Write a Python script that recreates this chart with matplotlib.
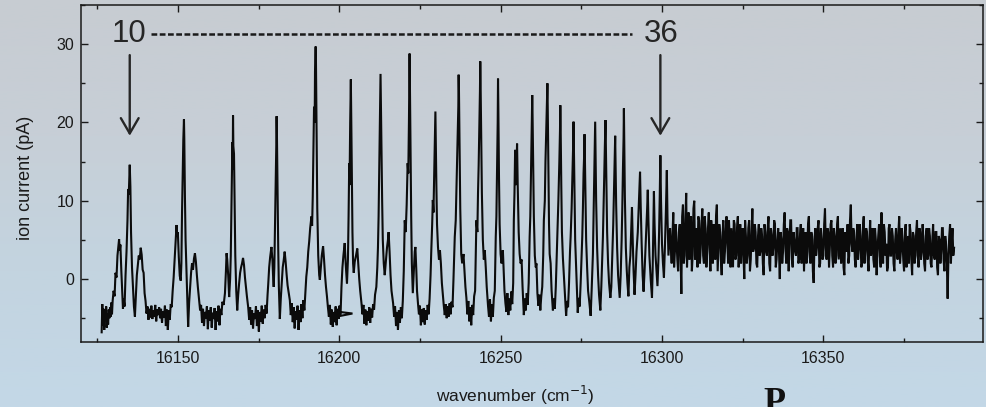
import numpy as np
import matplotlib
matplotlib.use("Agg")
import matplotlib.pyplot as plt
from matplotlib.ticker import MultipleLocator
from matplotlib.colors import LinearSegmentedColormap

# ---------------- data (wavenumber cm^-1, ion current pA) ----------------
# lines 10 and 11
seg_a = [(16126.4,-6.8),(16126.6,-3.2),(16126.8,-5.9),(16127.0,-3.8),(16127.2,-6.5),(16127.4,-4.0),
 (16127.6,-5.2),(16127.8,-3.5),(16128.0,-6.2),(16128.2,-4.4),(16128.4,-5.8),(16128.6,-3.9),(16128.8,-5.0),
 (16129.0,-3.6),(16129.2,-4.8),(16129.4,-3.0),(16129.6,-4.5),(16129.8,-2.8),(16130.1,-1.5),(16130.4,-2.2),
 (16130.7,0.8),(16131.0,0.2),(16131.3,3.0),(16131.6,4.2),(16131.8,5.1),(16132.0,3.6),(16132.2,4.4),
 (16132.5,1.0),(16132.8,-2.0),(16133.0,-3.8),(16133.2,-2.5),(16133.5,-3.5),(16133.8,0.5),(16134.1,3.5),
 (16134.4,7.5),(16134.6,11.5),(16134.8,10.8),(16135.0,13.5),(16135.1,14.6),(16135.3,11.8),(16135.5,6.0),
 (16135.8,1.5),(16136.1,-1.0),(16136.4,-3.5),(16136.7,-4.8),(16137.0,-2.0),(16137.3,0.5),(16137.6,1.8),
 (16137.9,3.0),(16138.2,2.5),(16138.5,4.0),(16138.8,3.1),(16139.1,1.2),(16139.4,0.8),(16139.7,-1.8),
 (16140.0,-2.8),(16140.3,-4.4),(16140.6,-3.5),(16140.9,-5.2),(16141.2,-3.8),(16141.5,-4.9),(16141.8,-3.4),
 (16142.1,-5.1),(16142.4,-4.0),(16142.7,-4.8),(16143.0,-3.3),(16143.3,-5.4),(16143.6,-3.9),(16143.9,-4.6),
 (16144.2,-3.6),(16144.5,-5.0),(16144.8,-3.8),(16145.1,-5.6),(16145.4,-4.1),(16145.7,-4.9),(16146.0,-3.4),
 (16146.3,-6.0),(16146.6,-3.9),(16146.9,-6.5),(16147.2,-4.0),(16147.5,-5.2),(16147.8,-3.2),(16148.1,-3.6),
 (16148.4,-1.5),(16148.7,0.2),(16149.0,2.5),(16149.3,4.8),(16149.6,6.9),(16149.8,5.5),(16150.0,6.0),
 (16150.3,2.8),(16150.6,0.4),(16150.9,-0.2),(16151.1,2.0),(16151.3,8.5),(16151.5,13.0),(16151.7,17.8),
 (16151.9,20.4),(16152.0,18.0),(16152.2,10.5),(16152.4,5.0),(16152.7,0.5),(16153.0,-3.5),(16153.2,-6.1),
 (16153.5,-3.0),(16153.8,-1.0),(16154.1,0.8),(16154.4,2.0),(16154.7,1.2),(16155.0,2.6),(16155.3,3.3),
 (16155.6,2.2),(16155.9,0.5),(16156.2,-1.0),(16156.6,-2.7)]

# lines 12 - 14
seg_b = [(16156.9,-4.0),(16157.2,-3.3),(16157.5,-5.6),(16157.8,-3.8),(16158.1,-6.0),(16158.4,-4.2),
 (16158.7,-5.0),(16159.0,-3.5),(16159.3,-6.4),(16159.6,-4.0),(16159.9,-5.3),(16160.2,-3.6),(16160.5,-6.2),
 (16160.8,-4.3),(16161.1,-5.1),(16161.4,-3.7),(16161.7,-6.5),(16162.0,-4.1),(16162.3,-5.4),(16162.6,-3.4),
 (16162.9,-5.9),(16163.2,-3.8),(16163.5,-4.6),(16163.8,-2.9),(16164.2,-3.3),(16164.6,-1.8),(16164.9,1.0),
 (16165.1,3.3),(16165.3,2.5),(16165.6,0.5),(16165.9,-2.3),(16166.2,0.0),(16166.4,3.0),(16166.6,9.0),
 (16166.8,14.3),(16166.9,17.5),(16167.0,14.0),(16167.1,20.9),(16167.2,17.0),(16167.4,16.0),(16167.6,9.0),
 (16167.8,3.0),(16168.1,-1.5),(16168.4,-4.0),(16168.7,-2.0),(16169.0,-0.5),(16169.3,0.8),(16169.6,1.5),
 (16169.9,2.0),(16170.2,2.7),(16170.5,1.8),(16170.8,0.2),(16171.1,-1.0),(16171.4,-2.2),(16171.8,-3.6),
 (16172.1,-5.2),(16172.4,-3.6),(16172.7,-5.8),(16173.0,-4.0),(16173.3,-6.3),(16173.6,-4.4),(16173.9,-5.1),
 (16174.2,-3.5),(16174.5,-6.0),(16174.8,-4.0),(16175.1,-6.7),(16175.4,-4.2),(16175.7,-5.4),(16176.0,-3.4),
 (16176.3,-5.7),(16176.6,-3.9),(16176.9,-5.0),(16177.2,-3.3),(16177.5,-4.4),(16177.8,-2.0),(16178.0,-0.7),
 (16178.3,1.5),(16178.6,2.8),(16179.0,4.1),(16179.3,2.5),(16179.5,0.5),(16179.7,-1.0),(16179.9,1.5),
 (16180.1,6.5),(16180.3,12.0),(16180.5,17.0),(16180.6,20.8),(16180.7,18.5),(16180.9,11.0),(16181.1,4.0),
 (16181.3,-1.0),(16181.6,-5.1),(16181.9,-2.5),(16182.2,-0.5),(16182.5,1.5),(16182.8,2.4),(16183.1,3.5),
 (16183.4,2.2),(16183.7,0.6),(16184.0,-0.8),(16184.3,-1.6),(16184.7,-2.7),(16185.0,-4.6),(16185.3,-3.1),
 (16185.6,-5.5),(16185.9,-3.6),(16186.2,-6.3),(16186.5,-4.1),(16186.8,-5.2),(16187.1,-3.4),(16187.4,-6.5),
 (16187.7,-4.0),(16188.0,-5.5),(16188.3,-3.2),(16188.6,-5.0),(16188.9,-2.7),(16189.2,-4.0),(16189.5,-1.8),
 (16189.8,0.3),(16190.1,1.5),(16190.4,3.5),(16190.7,4.8),(16191.0,6.5),(16191.2,7.2),(16191.4,8.0),
 (16191.6,6.8),(16191.8,10.5),(16192.0,16.0),(16192.2,22.0),(16192.4,20.0),(16192.5,26.5),(16192.7,29.7),
 (16192.8,27.5),(16193.0,18.0),(16193.2,9.0),(16193.5,3.0),(16193.8,0.5),(16194.0,-0.1),(16194.3,1.5),
 (16194.6,3.0),(16195.0,4.2),(16195.3,2.5),(16195.6,0.5),(16195.9,-1.0),(16196.2,-2.2),(16196.5,-3.6),
 (16196.8,-4.8),(16197.1,-3.3),(16197.4,-5.8),(16197.7,-3.9),(16198.0,-6.1),(16198.3,-4.2),(16198.6,-5.5),
 (16198.9,-3.5),(16199.2,-5.9),(16199.5,-3.8),(16199.8,-5.1),(16200.1,-3.4),(16200.2,-4.2),(16204.1,-4.4),
 (16200.4,-4.7)]

# lines 15 - 22
seg_c = [(16200.7,-1.0),(16201.0,1.5),(16201.3,3.0),(16201.7,4.6),(16202.0,2.0),(16202.4,-0.6),
 (16202.7,2.5),(16202.9,8.0),(16203.1,14.8),(16203.2,12.0),(16203.4,20.0),(16203.6,25.5),(16203.7,22.0),
 (16203.9,14.0),(16204.1,6.0),(16204.3,2.0),(16204.5,0.8),(16204.8,2.2),(16205.2,3.0),(16205.6,3.9),
 (16205.9,2.0),(16206.2,0.0),(16206.5,-1.5),(16206.9,-3.1),(16207.2,-4.5),(16207.5,-3.3),(16207.8,-5.7),
 (16208.1,-3.9),(16208.4,-5.9),(16208.7,-4.1),(16209.0,-5.3),(16209.3,-3.6),(16209.6,-5.6),(16209.9,-3.8),
 (16210.2,-4.9),(16210.5,-3.2),(16210.8,-3.9),(16211.1,-2.0),(16211.5,-1.0),(16211.8,1.5),(16212.0,4.0),
 (16212.2,8.0),(16212.4,14.0),(16212.6,20.0),(16212.8,26.2),(16212.9,23.0),(16213.1,16.0),(16213.3,10.0),
 (16213.5,5.0),(16213.8,2.0),(16214.1,0.5),(16214.4,2.0),(16214.8,4.0),(16215.1,5.0),(16215.3,6.0),
 (16215.6,3.5),(16215.9,0.5),(16216.2,-1.5),(16216.7,-3.1),(16217.0,-4.8),(16217.3,-3.5),(16217.6,-6.0),
 (16217.9,-4.2),(16218.2,-6.5),(16218.5,-4.0),(16218.8,-5.6),(16219.1,-3.6),(16219.4,-5.0),(16219.7,-2.8),
 (16220.0,1.0),(16220.3,7.5),(16220.6,6.0),(16220.9,9.5),(16221.2,14.8),(16221.4,13.5),(16221.6,20.0),
 (16221.8,28.8),(16221.9,25.0),(16222.1,16.0),(16222.3,8.0),(16222.5,2.0),(16222.8,-1.8),(16223.1,1.0),
 (16223.4,3.5),(16223.6,4.1),(16223.9,1.0),(16224.1,-1.5),(16224.4,-3.1),(16224.7,-4.5),(16225.0,-3.4),
 (16225.3,-5.9),(16225.6,-3.9),(16225.9,-5.5),(16226.2,-3.7),(16226.5,-5.8),(16226.8,-4.0),(16227.1,-5.2),
 (16227.4,-3.3),(16227.7,-4.5),(16228.0,-2.5),(16228.3,0.5),(16228.5,3.3),(16228.8,7.0),(16229.0,10.1),
 (16229.2,8.5),(16229.4,13.0),(16229.6,17.5),(16229.8,21.4),(16229.9,18.0),(16230.1,12.0),(16230.3,7.0),
 (16230.6,4.1),(16230.9,2.5),(16231.2,3.7),(16231.5,2.0),(16231.8,-0.5),(16232.1,-2.0),(16232.4,-3.4),
 (16232.7,-4.6),(16233.0,-3.2),(16233.3,-5.0),(16233.6,-3.5),(16233.9,-4.8),(16234.2,-3.1),(16234.5,-4.5),
 (16234.8,-2.9),(16235.1,-3.6),(16235.4,0.0),(16235.8,5.4),(16236.1,7.5),(16236.3,11.0),(16236.5,14.5),
 (16236.7,18.0),(16236.9,22.0),(16237.0,26.1),(16237.1,24.0),(16237.3,16.0),(16237.5,9.0),(16237.8,3.2),
 (16238.1,2.0),(16238.5,3.2),(16238.8,1.0),(16239.1,-1.0),(16239.4,-2.4),(16239.7,-4.5),(16240.0,-2.8),
 (16240.3,-5.4),(16240.6,-3.6),(16240.9,-5.9),(16241.2,-3.3),(16241.5,-4.6),(16241.8,-2.2),(16242.1,-1.5),
 (16242.5,7.5),(16242.8,6.0),(16243.0,11.0),(16243.2,14.5),(16243.4,19.0),(16243.6,24.0),(16243.7,27.8),
 (16243.8,25.0),(16244.0,18.0),(16244.2,11.0),(16244.5,5.0),(16244.8,2.5),(16245.1,3.7),(16245.4,1.5),
 (16245.7,-1.0),(16246.1,-3.4),(16246.4,-4.8),(16246.7,-2.6),(16247.0,-5.4),(16247.3,-3.2),(16247.6,-4.8),
 (16247.9,-2.4),(16248.2,-1.5),(16248.5,5.4),(16248.7,8.0),(16248.9,14.0),(16249.1,20.0),(16249.2,25.6),
 (16249.3,22.0),(16249.5,13.0),(16249.7,7.0),(16250.0,3.2),(16250.3,2.0),(16250.7,3.7),(16251.0,0.5),
 (16251.2,-1.5),(16251.5,-3.1),(16251.8,-4.2),(16252.1,-1.8),(16252.4,-4.6),(16252.7,-2.5),(16253.0,-4.0),
 (16253.3,-1.6),(16253.6,-3.2),(16253.9,-0.5),(16254.1,7.5),(16254.3,11.0),(16254.5,16.5),(16254.7,12.0),
 (16254.9,14.0),(16255.1,17.3),(16255.3,12.0),(16255.6,6.0),(16255.9,3.2),(16256.2,2.0),(16256.5,2.5),
 (16256.8,-1.0),(16257.2,-4.6),(16257.5,-2.5),(16257.8,-4.0),(16258.1,-1.8),(16258.4,-3.3),(16258.7,-0.5)]

# lines 23 - 37
seg_d = [(16259.0,5.4),(16259.2,8.0),(16259.4,13.0),(16259.6,18.0),(16259.8,23.5),(16259.9,21.0),
 (16260.1,14.0),(16260.3,8.0),(16260.6,3.0),(16260.9,1.5),(16261.1,2.0),(16261.4,-1.8),(16261.7,-3.4),
 (16262.0,-2.0),(16262.3,-4.0),(16262.6,-2.2),(16262.9,-1.0),(16263.2,3.0),(16263.4,7.5),(16263.7,10.0),
 (16263.9,15.0),(16264.2,20.0),(16264.5,25.0),(16264.6,22.0),(16264.8,14.0),(16265.0,7.0),(16265.2,3.2),
 (16265.5,2.0),(16265.8,-1.5),(16266.2,-4.0),(16266.5,-2.5),(16266.8,-3.8),(16267.1,-1.0),(16267.4,3.0),
 (16267.6,5.4),(16267.9,10.0),(16268.2,15.0),(16268.4,19.0),(16268.5,22.2),(16268.6,19.5),(16268.8,12.0),
 (16269.0,6.0),(16269.3,2.7),(16269.6,0.5),(16270.0,-2.5),(16270.3,-4.7),(16270.6,-2.8),(16270.9,-3.6),
 (16271.2,-0.5),(16271.5,3.5),(16271.7,5.4),(16272.0,9.0),(16272.3,14.0),(16272.5,17.5),(16272.6,20.1),
 (16272.7,17.0),(16272.9,10.0),(16273.1,5.0),(16273.4,1.5),(16273.7,-2.0),(16273.9,-4.3),(16274.2,-2.4),
 (16274.5,-3.5),(16274.8,-0.5),(16275.1,3.0),(16275.3,5.4),(16275.5,9.0),(16275.7,13.5),(16275.9,16.0),
 (16276.0,18.5),(16276.1,16.0),(16276.3,10.0),(16276.5,5.0),(16276.8,1.5),(16277.1,-1.5),(16277.5,-3.0),
 (16277.9,-4.7),(16278.2,-1.5),(16278.6,3.2),(16278.8,8.0),(16279.0,13.0),(16279.2,17.0),(16279.3,20.1),
 (16279.4,17.0),(16279.6,10.0),(16279.9,4.0),(16280.2,0.5),(16280.5,-2.0),(16280.9,-4.0),(16281.2,-1.0),
 (16281.5,3.0),(16281.7,5.4),(16281.9,9.0),(16282.1,13.0),(16282.3,17.0),(16282.5,20.3),(16282.6,17.5),
 (16282.8,11.0),(16283.0,6.0),(16283.3,2.0),(16283.6,-0.5),(16284.0,-2.4),(16284.3,-1.0),(16284.6,3.0),
 (16284.9,7.0),(16285.1,10.5),(16285.3,14.5),(16285.5,18.3),(16285.6,15.5),(16285.8,9.5),(16286.1,4.0),
 (16286.4,0.5),(16286.9,-2.4),(16287.2,0.5),(16287.5,5.0),(16287.7,9.0),(16287.9,14.0),(16288.1,18.0),
 (16288.2,21.8),(16288.3,18.0),(16288.5,10.5),(16288.8,4.0),(16289.1,1.0),(16289.3,-0.5),(16289.6,-2.2),
 (16289.9,1.5),(16290.2,3.0),(16290.5,6.5),(16290.7,9.2),(16290.9,5.5),(16291.2,1.0),(16291.5,-2.0),
 (16291.8,0.5),(16292.1,3.5),(16292.5,6.0),(16292.8,9.5),(16293.0,11.5),(16293.2,13.7),(16293.4,9.5),
 (16293.7,4.5),(16294.0,0.5),(16294.3,-1.6),(16294.6,1.0),(16294.9,4.0),(16295.2,7.0),(16295.4,9.0),
 (16295.6,11.4),(16295.8,7.5),(16296.1,3.0),(16296.5,0.0),(16296.9,-2.4),(16297.1,1.0),(16297.3,6.5),
 (16297.5,11.2),(16297.7,7.0),(16298.0,3.0),(16298.3,1.0),(16298.6,-0.9),(16298.9,2.5),(16299.1,6.0),
 (16299.3,10.5),(16299.5,15.8),(16299.7,10.0),(16300.0,4.5),(16300.3,2.0),(16300.6,0.2),(16300.9,4.0),
 (16301.2,8.5),(16301.5,13.9),(16301.7,8.0),(16302.0,3.0)]

# unresolved region: readings every 0.5 cm^-1 from 16302.5 (tail_pa)
# and the readings half-way between them (tail_pa_mid)
tail_start, tail_step = 16302.5, 0.5
tail_pa = [6.5, 2.0, 8.5, 3.5, 5.0, 1.0, 7.0, -1.9, 9.5, 3.0, 11.0, 4.5, 2.5, 8.0, 3.0, 10.0, 5.5, 1.5, 7.5, 4.0,
 9.0, 2.0, 6.5, 3.5, 8.5, 1.0, 5.5, 7.0, 2.5, 9.5, 4.0, 6.0, 0.5, 7.5, 3.5, 8.0, 2.0, 5.0, 6.5, 1.5,
 7.0, 3.0, 8.0, 4.5, 2.0, 6.5, 0.0, 5.5, 3.0, 7.5, 2.5, 9.0, 4.0, 6.0, 1.5, 7.0, 3.5, 5.5, 0.5, 6.0,
 3.0, 8.0, 1.0, 5.5, 4.0, 7.0, 2.5, 6.5, 0.0, 5.0, 3.5, 8.5, 2.0, 6.0, 4.5, 7.5, 1.5, 5.0, 3.0, 6.5,
 2.5, 7.0, 4.0, 1.0, 6.0, 3.5, 8.0, 2.0, 5.5, -0.5, 6.5, 4.0, 7.5, 2.0, 5.0, 3.0, 9.0, 2.5, 6.0, 4.0,
 7.5, 1.5, 5.5, 3.0, 8.0, 4.5, 2.0, 6.5, 0.5, 5.0, 7.0, 3.0, 9.5, 3.5, 6.0, 1.5, 7.0, 4.0, 5.5, 2.0,
 8.0, 3.5, 6.0, 1.0, 7.5, 4.0, 2.5, 6.5, 0.5, 5.5, 3.0, 8.5, 2.0, 6.0, 4.5, 1.5, 7.0, 3.0, 5.5, 1.0,
 6.5, 2.5, 8.0, 3.5, 5.0, 1.0, 7.0, 4.0, 2.0, 6.0, 0.5, 5.5, 3.0, 7.5, 1.5, 6.0, 3.5, 5.0, 1.0, 6.5,
 3.0, 5.5, 1.5, 7.0, 2.5, 6.0, 0.5, 5.0, 3.5, 6.5, 1.0, 4.5, -2.5, 5.5, 2.0, 6.5, 4.0]
tail_pa_mid = [4.0, 5.5, 1.5, 7.0, 2.5, 6.0, 3.0, 8.0, 2.0, 7.5, 1.5, 8.5, 5.5, 1.0, 9.0, 2.5, 6.5, 8.0, 2.0, 7.0,
 3.0, 8.0, 1.5, 6.5, 4.0, 7.5, 2.0, 4.5, 8.0, 1.0, 7.0, 2.5, 5.5, 2.0, 6.5, 4.5, 7.5, 1.5, 4.0, 7.5,
 2.5, 6.5, 1.5, 7.0, 5.0, 3.0, 7.5, 2.0, 6.5, 1.0, 6.0, 3.5, 7.0, 2.0, 5.5, 3.0, 6.5, 2.0, 7.0, 3.5,
 6.5, 2.0, 6.5, 3.0, 7.5, 1.5, 5.0, 3.5, 6.0, 2.0, 7.0, 4.0, 6.5, 1.0, 7.5, 2.5, 6.0, 3.5, 6.5, 2.0,
 5.5, 2.0, 6.5, 4.5, 2.0, 7.0, 3.0, 6.0, 1.0, 5.0, 3.0, 6.5, 1.5, 6.5, 2.5, 7.0, 4.0, 6.5, 1.5, 7.0,
 3.0, 6.5, 2.0, 7.0, 2.5, 6.5, 5.0, 1.5, 6.0, 3.5, 2.0, 7.5, 4.5, 6.5, 2.5, 5.0, 2.5, 7.0, 1.5, 6.5,
 2.0, 6.5, 2.5, 5.0, 3.0, 6.5, 1.5, 5.0, 3.5, 7.0, 1.5, 5.0, 7.0, 3.0, 1.0, 6.5, 3.0, 6.5, 2.0, 5.0,
 3.5, 6.0, 2.0, 6.5, 2.5, 6.0, 1.5, 5.5, 7.0, 2.5, 6.0, 2.0, 6.0, 3.0, 6.5, 2.5, 7.0, 2.0, 5.5, 2.5,
 6.5, 2.0, 5.0, 3.0, 6.0, 1.5, 5.5, 2.0, 6.5, 2.5, 5.5, 2.0, 3.0, 7.0, 4.5, 3.0]

x_major = [16150, 16200, 16250, 16300, 16350]
y_major = [0, 10, 20, 30]
band_labels = ["10", "36"]
band_nu = [16135.1, 16299.5]          # lines marked by arrows
band_label_nu = [16134.8, 16299.6]
band_label_pa = 31.3
arrow_top, arrow_tip = 28.6, 18.3
dash_nu = [16141.7, 16290.6]

# ---------------- figure ----------------
W, H = 986, 407
fig = plt.figure(figsize=(W / 100, H / 100), dpi=100)

bg = fig.add_axes([0, 0, 1, 1], zorder=-10)
cmap = LinearSegmentedColormap.from_list(
    "bg", ["#c7ccd2", "#c7cfd7", "#c3d4e0", "#c3d8e7"])
grad = np.linspace(0, 1, 256).reshape(-1, 1)
bg.imshow(grad, aspect="auto", cmap=cmap, extent=[0, 1, 0, 1], origin="upper")
bg.set_axis_off()

ax = fig.add_axes([81 / W, 1 - 341.7 / H, (982.5 - 81) / W, (341.7 - 5) / H])
ax.set_facecolor("none")

nu = []
pa = []
for seg in (seg_a, seg_b, seg_c, seg_d):
    nu += [p[0] for p in seg]
    pa += [p[1] for p in seg]
for i, v in enumerate(tail_pa):
    nu.append(tail_start + tail_step * i)
    pa.append(v)
    if i < len(tail_pa_mid):
        nu.append(tail_start + tail_step * (i + 0.5))
        pa.append(tail_pa_mid[i])
ax.plot(nu, pa, color="#0b0b0b", lw=1.5, solid_joinstyle="miter")

ax.set_xlim(16120.0, 16399.3)
ax.set_ylim(-8.0, 35.0)
ax.set_xticks(x_major)
ax.set_yticks(y_major)
ax.xaxis.set_minor_locator(MultipleLocator(25))
ax.yaxis.set_minor_locator(MultipleLocator(5))
ax.tick_params(which="both", direction="in", top=True, right=True,
               color="#1a1a1a", width=1.0, labelsize=11.5, labelcolor="#1a1a1a")
ax.tick_params(which="major", length=4.8)
ax.tick_params(which="minor", length=3.2)
ax.tick_params(axis="x", pad=6.5)
ax.tick_params(axis="y", pad=5.0)
for lab in ax.get_xticklabels() + ax.get_yticklabels():
    lab.set_family("Liberation Sans")
for s in ax.spines.values():
    s.set_linewidth(1.1)
    s.set_color("#1a1a1a")

fig.text(26 / W, 1 - 178 / H, "ion current (pA)", rotation=90, ha="center", va="center",
         fontsize=13, family="Liberation Sans", color="#1a1a1a")
fig.text(515 / W, 1 - 395 / H, "wavenumber (cm$^{-1}$)", ha="center", va="center",
         fontsize=12.5, family="Liberation Sans", color="#1a1a1a")

# band annotations
for lab, x0, xl in zip(band_labels, band_nu, band_label_nu):
    ax.text(xl, band_label_pa, lab, ha="center", va="center", fontsize=22.5,
            family="Liberation Sans", color="#262626")
    ax.annotate("", xy=(x0, arrow_tip), xytext=(x0, arrow_top),
                arrowprops=dict(arrowstyle="->,head_length=0.55,head_width=0.32",
                                lw=1.7, color="#262626", mutation_scale=20,
                                shrinkA=0, shrinkB=0))
ax.plot(dash_nu, [band_label_pa, band_label_pa], color="#1a1a1a", lw=1.8,
        dashes=(2.3, 1.0))

# panel letter, cropped at the bottom edge as in the source figure
fig.text(774 / W, -0.012, "P", ha="center", va="baseline", fontsize=26,
         family="Liberation Serif", weight="bold", color="#111111")

fig.savefig("out.png", dpi=100)
